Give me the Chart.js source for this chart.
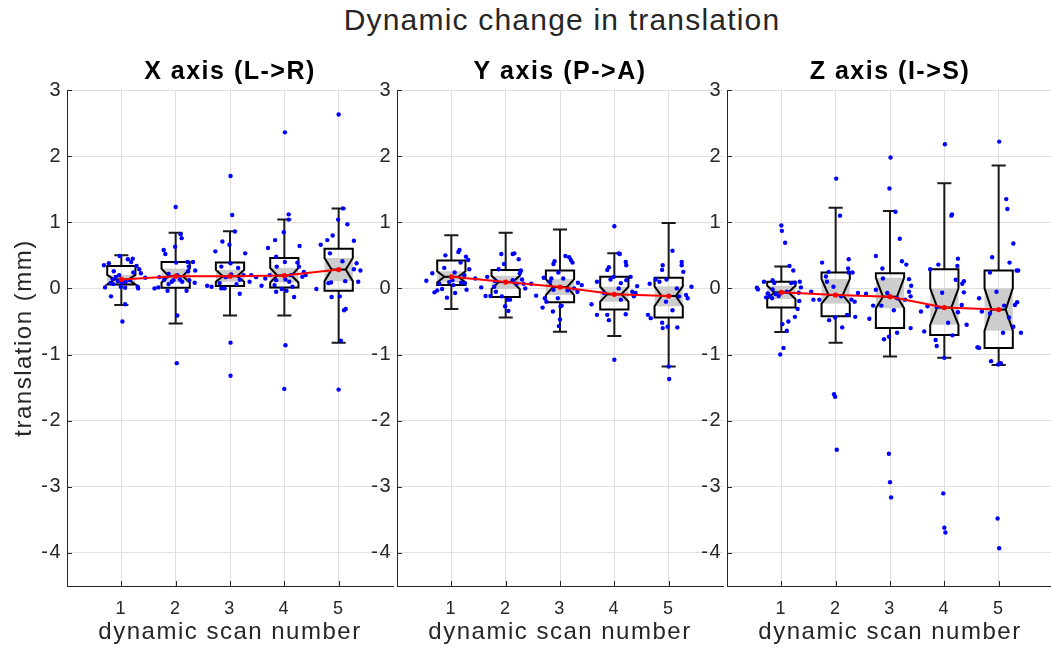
<!DOCTYPE html>
<html>
<head>
<meta charset="utf-8">
<script src="https://cdn.jsdelivr.net/npm/chart.js@4/dist/chart.umd.min.js"></script>
<style>
  html, body { margin: 0; padding: 0; background: #fff; width: 1051px; height: 656px; overflow: hidden; }
  #suptitle {
    position: absolute; left: 262px; width: 600px; top: 5px;
    text-align: center; color: #262626;
    font: 30px "Liberation Sans", Arial, sans-serif; line-height: 30px; letter-spacing: 1.2px;
  }
  canvas { position: absolute; top: 0; }
</style>
</head>
<body>
<div id="suptitle">Dynamic change in translation</div>
<canvas id="panelX" width="397" height="656" style="left:0px;width:397px;height:656px"></canvas>
<canvas id="panelY" width="397" height="656" style="left:330px;width:397px;height:656px"></canvas>
<canvas id="panelZ" width="397" height="656" style="left:660px;width:397px;height:656px"></canvas>
<script>
// ---- data -------------------------------------------------------------
const scans = [1, 2, 3, 4, 5];
const yTickValues = [-4, -3, -2, -1, 0, 1, 2, 3];

// X axis (L->R): box statistics per dynamic scan (mm)
const xLower     = [-0.25, -0.53, -0.41, -0.41, -0.82];
const xQ1        = [0.06, 0.01, 0.035, 0.015, -0.035];
const xMedian    = [0.135, 0.185, 0.185, 0.195, 0.285];
const xQ3        = [0.34, 0.40, 0.39, 0.46, 0.60];
const xUpper     = [0.50, 0.84, 0.865, 1.04, 1.21];
const xNotchLow  = [0.06, 0.09, 0.10, 0.09, 0.11];
const xNotchHigh = [0.205, 0.30, 0.28, 0.31, 0.46];

// Y axis (P->A)
const yLower     = [-0.31, -0.44, -0.655, -0.72, -1.18];
const yQ1        = [0.05, -0.13, -0.21, -0.32, -0.44];
const yMedian    = [0.175, 0.095, 0.02, -0.09, -0.115];
const yQ3        = [0.42, 0.28, 0.27, 0.175, 0.16];
const yUpper     = [0.805, 0.84, 0.89, 0.53, 0.99];
const yNotchLow  = [0.09, -0.01, -0.10, -0.20, -0.27];
const yNotchHigh = [0.26, 0.19, 0.14, 0.025, 0.03];

// Z axis (I->S)
const zLower     = [-0.66, -0.82, -1.03, -1.05, -1.16];
const zQ1        = [-0.29, -0.42, -0.60, -0.705, -0.90];
const zMedian    = [-0.06, -0.10, -0.125, -0.29, -0.32];
const zQ3        = [0.10, 0.24, 0.23, 0.29, 0.27];
const zUpper     = [0.33, 1.22, 1.17, 1.59, 1.86];
const zNotchLow  = [-0.16, -0.23, -0.30, -0.55, -0.64];
const zNotchHigh = [0.04, 0.14, 0.16, 0.00, 0.00];

// individual subjects: [jittered scan number, translation in mm]
const xSubjects = [
  [0.68,0.35],[0.77,0.38],[0.86,0.26],[0.96,0.20],[1.12,0.44],[1.18,0.40],[1.21,0.45],[1.28,0.34],
  [1.33,0.29],[1.36,0.23],[1.44,0.16],[1.31,0.00],[1.07,0.01],[1.01,0.09],[0.94,0.11],[0.84,0.14],
  [0.80,0.08],[0.70,0.015],[0.81,-0.12],[1.07,-0.24],[1.02,-0.50],[0.97,0.49],[1.16,0.125],[1.08,0.10],
  [0.85,0.065],[0.99,0.025],[1.22,0.24],[0.90,0.175],[1.30,0.025],
  [2.00,1.23],[1.99,0.63],[1.78,0.58],[1.81,0.52],[2.09,0.82],[2.11,0.76],[2.22,0.40],[2.32,0.40],
  [2.24,0.33],[2.23,0.26],[2.36,0.27],[2.01,0.39],[1.87,0.22],[1.79,0.13],[1.70,0.17],[2.03,0.20],
  [1.96,0.125],[2.12,0.10],[1.87,0.065],[1.85,-0.035],[2.20,-0.035],[1.68,0.015],[1.61,0.00],[2.35,0.085],
  [2.25,0.125],[1.93,0.10],[2.08,0.135],[2.03,-0.41],[2.02,-1.13],
  [3.01,1.70],[3.04,1.11],[3.09,0.86],[2.86,0.71],[2.99,0.66],[2.73,0.56],[3.28,0.53],[3.01,0.38],
  [2.84,0.33],[3.15,0.31],[3.25,0.20],[3.36,0.10],[3.18,0.13],[2.92,0.17],[3.02,0.21],[2.81,0.08],
  [2.84,0.00],[2.66,0.025],[2.58,0.04],[3.48,0.17],[3.39,0.20],[2.90,0.00],[3.12,0.065],[3.18,-0.08],
  [3.01,-0.82],[3.01,-1.32],
  [4.01,2.36],[4.08,1.12],[4.08,1.04],[3.99,0.85],[3.83,0.73],[4.28,0.64],[3.70,0.61],[3.85,0.48],
  [4.01,0.40],[3.86,0.33],[4.24,0.39],[4.27,0.33],[3.73,0.20],[4.12,0.20],[4.36,0.25],[4.33,0.175],
  [4.39,0.20],[3.85,0.125],[4.02,0.135],[4.09,0.10],[3.65,0.15],[3.58,0.04],[3.82,0.05],[4.15,0.025],
  [3.95,-0.01],[4.04,-0.035],[3.85,-0.05],[4.18,-0.13],[4.02,-0.86],[4.00,-1.52],
  [5.00,2.63],[5.08,1.21],[4.99,1.04],[5.16,0.97],[4.89,0.80],[4.79,0.73],[5.28,0.72],[4.67,0.66],
  [4.84,0.53],[5.07,0.41],[5.33,0.38],[5.40,0.27],[5.28,0.29],[5.36,0.10],[5.12,0.11],[4.86,0.09],
  [4.81,0.08],[4.59,-0.01],[4.87,-0.13],[5.02,-0.12],[5.13,-0.31],[5.10,-0.33],[5.04,-0.79],[5.00,-1.53]
];

const ySubjects = [
  [0.54,0.115],[0.65,0.23],[0.69,-0.06],[0.74,-0.03],[0.83,-0.01],[0.92,-0.14],[1.07,-0.07],[1.28,-0.02],
  [1.33,0.29],[1.31,0.43],[1.27,0.48],[1.15,0.58],[1.13,0.55],[0.89,0.50],[0.87,0.31],[1.02,0.125],
  [1.18,0.085],[1.25,0.08],[1.24,0.20],[1.44,0.15],[0.78,0.07],[0.96,0.095],[1.04,0.05],[1.06,0.24],
  [1.17,0.39],
  [1.92,0.52],[2.13,0.52],[2.16,0.53],[2.24,0.44],[1.97,0.37],[1.87,0.29],[2.27,0.25],[2.28,0.27],
  [2.30,0.135],[2.33,0.07],[2.36,0.00],[2.47,0.07],[1.66,0.175],[1.55,0.015],[1.63,-0.115],[1.72,-0.115],
  [1.82,-0.05],[1.93,-0.12],[2.03,-0.17],[2.08,-0.17],[1.99,-0.27],[2.05,-0.34],[1.81,0.11],[2.13,0.125],
  [1.79,0.025],[2.20,0.07],[2.26,0.23],
  [2.90,0.41],[2.88,0.37],[3.10,0.49],[3.17,0.47],[3.20,0.43],[3.23,0.39],[2.97,0.24],[2.84,0.15],
  [2.82,0.10],[2.70,0.16],[2.56,-0.11],[2.72,-0.15],[2.68,-0.29],[2.87,-0.35],[3.01,-0.27],[3.03,-0.26],
  [3.00,-0.47],[2.98,-0.57],[3.14,-0.03],[3.26,0.00],[3.33,0.085],[3.40,0.05],[3.32,-0.05],[2.75,-0.20],
  [2.96,-0.15],[2.88,-0.02],[3.06,0.15],
  [4.00,0.94],[4.08,0.53],[4.10,0.52],[3.90,0.32],[3.87,0.28],[4.21,0.40],[4.22,0.35],[3.68,0.10],
  [3.58,-0.24],[3.68,-0.40],[3.87,-0.40],[3.90,-0.48],[4.12,-0.17],[4.21,-0.39],[4.36,-0.12],[4.39,-0.07],
  [4.33,-0.05],[4.42,0.035],[4.08,0.00],[3.81,-0.07],[3.93,0.135],[3.99,0.175],[4.12,0.08],[4.22,0.125],
  [4.30,0.175],[4.00,-1.08],
  [5.07,0.57],[4.89,0.35],[5.24,0.40],[5.24,0.35],[5.27,0.25],[4.88,0.28],[4.65,0.07],[4.76,0.135],
  [4.83,0.10],[4.96,0.135],[5.15,0.00],[5.32,-0.10],[5.35,-0.15],[5.42,0.025],[5.19,-0.12],[4.62,-0.40],
  [4.67,-0.45],[4.88,-0.52],[4.89,-0.60],[4.98,-0.58],[5.16,-0.59],[4.95,-0.20],[5.07,-0.33],[5.00,-1.18],
  [5.01,-1.37]
];

const zSubjects = [
  [1.00,0.95],[1.01,0.87],[1.07,0.69],[1.15,0.34],[1.22,0.27],[0.55,0.01],[0.57,-0.015],[0.68,0.10],
  [0.84,0.125],[0.87,0.08],[0.72,-0.135],[0.78,-0.115],[0.83,-0.15],[0.89,-0.085],[0.95,-0.115],[0.99,-0.075],
  [1.10,-0.05],[1.18,0.08],[1.25,0.085],[1.34,0.10],[1.36,0.015],[1.32,-0.065],[1.33,-0.19],[1.30,-0.31],
  [1.25,-0.43],[1.13,-0.50],[1.10,-0.64],[1.02,-0.54],[1.04,-0.90],[0.98,-1.00],[0.84,-0.015],[0.75,-0.075],
  [2.01,1.66],[2.08,1.10],[1.75,0.39],[2.24,0.44],[2.23,0.30],[2.24,0.24],[2.31,0.24],[1.82,0.18],
  [1.87,0.25],[1.84,0.10],[1.99,-0.10],[2.10,-0.12],[1.96,0.025],[1.70,-0.17],[1.59,-0.17],[1.55,-0.05],
  [2.29,-0.17],[2.35,-0.20],[2.21,-0.40],[2.36,-0.43],[1.99,-0.44],[1.88,-0.48],[2.12,-0.59],[2.41,-0.07],
  [2.56,-0.08],[1.97,-1.60],[1.99,-1.64],[2.02,-2.44],
  [3.01,1.98],[2.99,1.51],[3.10,1.16],[3.18,0.75],[3.22,0.41],[3.30,0.36],[2.74,0.49],[2.86,0.30],
  [2.87,0.15],[3.35,0.14],[3.39,0.04],[2.84,-0.26],[2.69,-0.26],[2.62,-0.46],[2.74,-0.02],[2.95,-0.07],
  [3.07,-0.33],[3.13,-0.15],[3.28,-0.17],[3.38,-0.12],[3.35,-0.05],[2.89,-0.77],[2.98,-0.73],[3.13,-0.67],
  [3.38,-0.60],[2.98,-2.50],[3.00,-2.93],[3.02,-3.16],
  [4.01,2.18],[4.14,1.12],[4.13,1.10],[3.89,0.36],[3.74,0.29],[4.25,0.45],[4.24,0.34],[4.21,0.13],
  [4.36,0.11],[4.33,0.07],[4.36,-0.06],[3.96,-0.065],[3.69,-0.27],[3.86,-0.28],[3.57,-0.35],[4.32,-0.25],
  [4.25,-0.36],[4.07,-0.52],[4.41,-0.55],[3.63,-0.65],[4.15,-0.71],[3.84,-0.78],[3.86,-0.87],[4.00,-1.05],
  [3.98,-3.10],[4.00,-3.62],[4.02,-3.69],
  [5.01,2.22],[5.14,1.35],[5.16,1.20],[5.27,0.68],[4.88,0.47],[5.20,0.39],[5.33,0.27],[5.36,0.27],
  [4.84,0.24],[4.96,-0.05],[4.64,-0.15],[4.69,-0.35],[4.84,-0.38],[5.10,-0.26],[5.19,-0.44],[5.27,-0.58],
  [5.34,-0.21],[5.30,-0.25],[5.08,-0.67],[5.41,-0.67],[4.61,-0.89],[4.64,-0.90],[4.86,-1.10],[4.99,-1.15],
  [5.04,-1.13],[4.98,-3.48],[5.01,-3.93]
];

// ---- styling ------------------------------------------------------------
const FONT = '"Liberation Sans", Arial, Helvetica, sans-serif';
const INK = '#262626';
const GRID = '#dfdfdf';
const BOX_HALF = 0.26;     // half box width, in scan units
const CAP_HALF = 0.13;     // half whisker-cap width, in scan units
const NOTCH_WAIST = 0.5;   // box width at the median, relative to full width

// slightly open tracking for every piece of chart text
const tracking = {
  id: 'tracking',
  beforeLayout(chart) { chart.ctx.letterSpacing = '1.5px'; },
  beforeDraw(chart) { chart.ctx.letterSpacing = '1.5px'; }
};

// notched box-and-whisker glyphs, positioned through the chart scales
const notchBoxes = {
  id: 'notchBoxes',
  beforeDatasetsDraw(chart, args, o) {
    const { ctx, scales: { x, y } } = chart;
    ctx.save();
    scans.forEach((s, i) => {
      const cx = x.getPixelForValue(s);
      const hw = x.getPixelForValue(s + BOX_HALF) - cx;
      const cw = x.getPixelForValue(s + CAP_HALF) - cx;
      const nw = hw * NOTCH_WAIST;
      const pLo = y.getPixelForValue(o.lower[i]);
      const pQ1 = y.getPixelForValue(o.q1[i]);
      const pMed = y.getPixelForValue(o.median[i]);
      const pQ3 = y.getPixelForValue(o.q3[i]);
      const pHi = y.getPixelForValue(o.upper[i]);
      const pNl = y.getPixelForValue(o.notchLow[i]);
      const pNh = y.getPixelForValue(o.notchHigh[i]);

      // median confidence band
      ctx.fillStyle = '#cdcdcd';
      ctx.fillRect(cx - hw, pNh, 2 * hw, pNl - pNh);

      ctx.strokeStyle = '#1a1a1a';
      ctx.lineWidth = 2;
      ctx.lineCap = 'butt';
      ctx.lineJoin = 'miter';
      // whiskers and caps
      ctx.beginPath();
      ctx.moveTo(cx, pQ3); ctx.lineTo(cx, pHi);
      ctx.moveTo(cx - cw, pHi); ctx.lineTo(cx + cw, pHi);
      ctx.moveTo(cx, pQ1); ctx.lineTo(cx, pLo);
      ctx.moveTo(cx - cw, pLo); ctx.lineTo(cx + cw, pLo);
      ctx.stroke();

      // notched box outline
      ctx.strokeStyle = '#000';
      ctx.beginPath();
      ctx.moveTo(cx - hw, pQ3);
      ctx.lineTo(cx + hw, pQ3);
      ctx.lineTo(cx + hw, pNh);
      ctx.lineTo(cx + nw, pMed);
      ctx.lineTo(cx + hw, pNl);
      ctx.lineTo(cx + hw, pQ1);
      ctx.lineTo(cx - hw, pQ1);
      ctx.lineTo(cx - hw, pNl);
      ctx.lineTo(cx - nw, pMed);
      ctx.lineTo(cx - hw, pNh);
      ctx.closePath();
      ctx.stroke();
      // median bar across the waist
      ctx.beginPath();
      ctx.moveTo(cx - nw, pMed); ctx.lineTo(cx + nw, pMed);
      ctx.stroke();
    });
    ctx.restore();
  }
};

// inward tick marks on the left and bottom axes
const inwardTicks = {
  id: 'inwardTicks',
  afterDraw(chart) {
    const { ctx, chartArea: a, scales: { x, y } } = chart;
    ctx.save();
    ctx.strokeStyle = INK;
    ctx.lineWidth = 1;
    ctx.beginPath();
    y.ticks.forEach(t => {
      const py = Math.round(y.getPixelForValue(t.value)) + 0.5;
      ctx.moveTo(a.left, py); ctx.lineTo(a.left + 5, py);
    });
    x.ticks.forEach(t => {
      const px = Math.round(x.getPixelForValue(t.value)) + 0.5;
      ctx.moveTo(px, a.bottom); ctx.lineTo(px, a.bottom - 5);
    });
    ctx.stroke();
    ctx.restore();
  }
};

function makePanel(id, title, subjects, lower, q1, median, q3, upper, notchLow, notchHigh, withYTitle) {
  return new Chart(document.getElementById(id), {
    type: 'scatter',
    data: {
      datasets: [
        {
          type: 'line',
          data: scans.map((s, i) => ({ x: s, y: median[i] })),
          borderColor: '#ff0000',
          backgroundColor: '#ff0000',
          borderWidth: 2,
          pointRadius: 2.6,
          pointBorderWidth: 0,
          tension: 0
        },
        {
          data: subjects.map(([sx, v]) => ({ x: sx, y: v })),
          backgroundColor: '#0000ff',
          borderWidth: 0,
          pointRadius: 2.2
        }
      ]
    },
    options: {
      responsive: false,
      animation: false,
      events: [],
      layout: { padding: 0 },
      plugins: {
        legend: { display: false },
        tooltip: { enabled: false },
        title: {
          display: true,
          text: title,
          fullSize: false,
          color: '#000',
          font: { family: FONT, size: 25, weight: 'bold', lineHeight: 1.2 },
          padding: { top: 57, bottom: 3 }
        },
        notchBoxes: { lower, q1, median, q3, upper, notchLow, notchHigh }
      },
      scales: {
        x: {
          type: 'linear',
          min: 0,
          max: 6,
          afterBuildTicks: s => { s.ticks = scans.map(v => ({ value: v })); },
          afterFit: s => { s.height = 70; },
          grid: { color: GRID, lineWidth: 1, drawTicks: false },
          border: { display: true, color: INK, width: 1 },
          ticks: { color: INK, font: { family: FONT, size: 18, lineHeight: 1.2 }, padding: 12, maxRotation: 0, autoSkip: false },
          title: {
            display: true,
            text: 'dynamic scan number',
            color: INK,
            font: { family: FONT, size: 24, lineHeight: 1.2 },
            padding: { top: 0, bottom: 9.6 }
          }
        },
        y: {
          type: 'linear',
          min: -4.5,
          max: 3,
          afterBuildTicks: s => { s.ticks = yTickValues.map(v => ({ value: v })); },
          afterFit: s => { s.width = 67; },
          grid: { color: GRID, lineWidth: 1, drawTicks: false },
          border: { display: true, color: INK, width: 1 },
          ticks: { color: INK, font: { family: FONT, size: 20, lineHeight: 1.2 }, padding: 5, autoSkip: false },
          title: {
            display: withYTitle,
            text: 'translation (mm)',
            color: INK,
            font: { family: FONT, size: 24, lineHeight: 1.2 },
            padding: { top: 9.6, bottom: 0 }
          }
        }
      }
    },
    plugins: [tracking, notchBoxes, inwardTicks]
  });
}

makePanel('panelX', 'X axis (L->R)', xSubjects, xLower, xQ1, xMedian, xQ3, xUpper, xNotchLow, xNotchHigh, true);
makePanel('panelY', 'Y axis (P->A)', ySubjects, yLower, yQ1, yMedian, yQ3, yUpper, yNotchLow, yNotchHigh, false);
makePanel('panelZ', 'Z axis (I->S)', zSubjects, zLower, zQ1, zMedian, zQ3, zUpper, zNotchLow, zNotchHigh, false);
</script>
</body>
</html>
